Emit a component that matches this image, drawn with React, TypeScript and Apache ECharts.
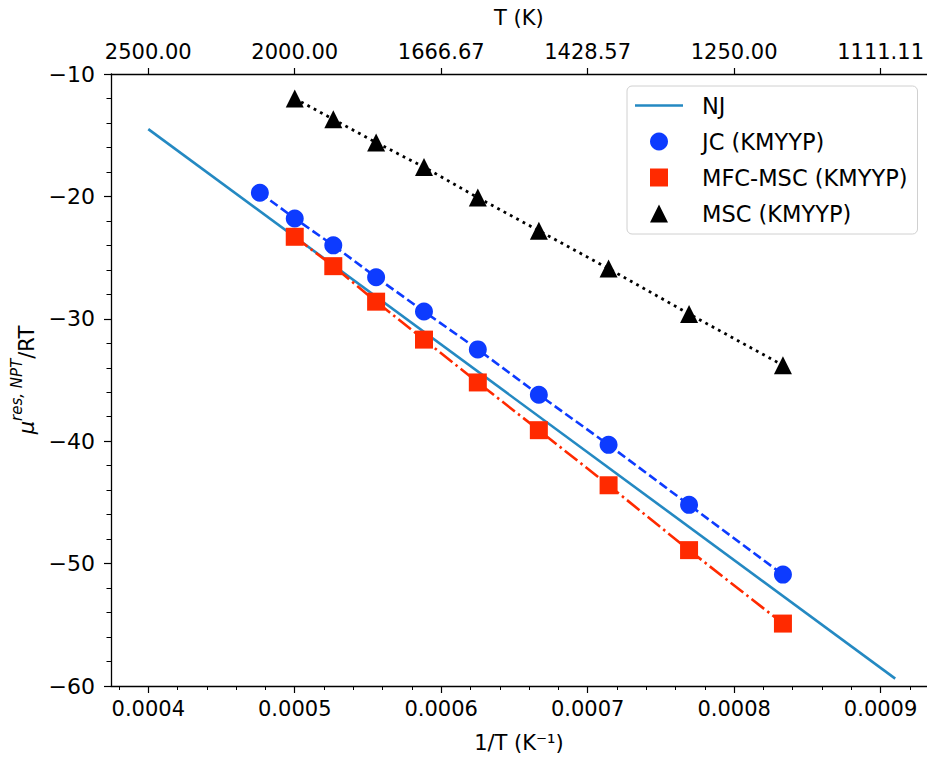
import React, { useEffect, useRef } from "react";
import * as echarts from "echarts";

// ---- data ----
const njInvT = [0.0004, 0.00091];
const njY = [-14.5, -59.4];

const jcT = [2100, 2000, 1900, 1800, 1700, 1600, 1500, 1400, 1300, 1200];
const jcY = [-19.7, -21.8, -24.0, -26.6, -29.4, -32.5, -36.2, -40.3, -45.2, -50.9];

const mfcT = [2000, 1900, 1800, 1700, 1600, 1500, 1400, 1300, 1200];
const mfcY = [-23.3, -25.7, -28.6, -31.7, -35.2, -39.1, -43.6, -48.9, -54.9];

const mscT = [2000, 1900, 1800, 1700, 1600, 1500, 1400, 1300, 1200];
const mscY = [-12.0, -13.7, -15.6, -17.6, -20.1, -22.8, -25.9, -29.6, -33.8];

const xMajorTicks = [0.0004, 0.0005, 0.0006, 0.0007, 0.0008, 0.0009];
const xMin = 0.00037454;
const xMax = 0.0009316;

const font = "'DejaVu Sans', sans-serif";

export default function App() {
  const ref = useRef<HTMLDivElement>(null);
  useEffect(() => {
    if (!ref.current) return;
    const chart = echarts.init(ref.current, undefined, { renderer: "svg" });

    const xMinor: number[] = [];
    for (let i = 19; i <= 46; i++) {
      if (i % 5 !== 0) xMinor.push(i * 0.00002);
    }

    const minusFmt = (v: number) => (v < 0 ? "\u2212" + Math.abs(v) : String(v));
    const axisLine = { show: true, lineStyle: { color: "#000", width: 1.3 } };

    const option: any = {
      animation: false,
      backgroundColor: "#fff",
      grid: { left: 111, right: 0, top: 74, bottom: 72, containLabel: false },
      legend: {
        orient: "vertical",
        left: 627,
        top: 86,
        width: 293,
        padding: [8, 10, 9, 8],
        itemGap: 13,
        itemWidth: 48,
        itemHeight: 18,
        backgroundColor: "rgba(255,255,255,0.8)",
        borderColor: "#d0d0d0",
        borderWidth: 1,
        borderRadius: 5,
        symbolKeepAspect: true,
        textStyle: { fontFamily: font, fontSize: 22.5, color: "#000", padding: [0, 0, 0, 14] },
        data: [
          { name: "NJ", icon: "path://M0,0 L48,0 L48,2.6 L0,2.6 Z" },
          { name: "JC (KMYYP)", icon: "circle" },
          { name: "MFC-MSC (KMYYP)", icon: "path://M0,0 L10,0 L10,10 L0,10 Z" },
          { name: "MSC (KMYYP)", icon: "path://M5,0 L10,10 L0,10 Z" },
        ],
      },
      xAxis: [
        {
          type: "value",
          position: "bottom",
          min: xMin,
          max: xMax,
          axisLine,
          splitLine: { show: false },
          axisTick: { show: true, length: 7, customValues: xMajorTicks, lineStyle: { color: "#000", width: 1.2 } },
          axisLabel: {
            customValues: xMajorTicks,
            formatter: (v: number) => Number(v).toFixed(4),
            fontFamily: font,
            fontSize: 21,
            color: "#000",
            margin: 12,
          },
          name: "1/T (K\u207B\u00B9)",
          nameLocation: "middle",
          nameGap: 46,
          nameTextStyle: { fontFamily: font, fontSize: 21, color: "#000" },
        },
        {
          type: "value",
          position: "top",
          min: xMin,
          max: xMax,
          axisLine,
          splitLine: { show: false },
          axisTick: { show: true, length: 6, customValues: xMajorTicks, lineStyle: { color: "#000", width: 1.2 } },
          axisLabel: {
            customValues: xMajorTicks,
            formatter: (v: number) => (1 / Number(v)).toFixed(2),
            fontFamily: font,
            fontSize: 21,
            color: "#000",
            margin: 12,
          },
          name: "T (K)",
          nameLocation: "middle",
          nameGap: 46,
          nameTextStyle: { fontFamily: font, fontSize: 21, color: "#000" },
        },
        {
          type: "value",
          position: "bottom",
          min: xMin,
          max: xMax,
          axisLine: { show: false },
          splitLine: { show: false },
          axisTick: { show: true, length: 4, customValues: xMinor, lineStyle: { color: "#000", width: 1 } },
          axisLabel: { show: false },
        },
      ],
      yAxis: {
        type: "value",
        min: -60,
        max: -10,
        interval: 10,
        axisLine,
        splitLine: { show: false },
        axisTick: { show: true, length: 7, lineStyle: { color: "#000", width: 1.2 } },
        minorTick: { show: true, splitNumber: 5, length: 4.5, lineStyle: { color: "#000", width: 1 } },
        axisLabel: { formatter: minusFmt, fontFamily: font, fontSize: 22, color: "#000", margin: 16 },
        name: "{m|\u03BC}{s|res, NPT}{r|/RT}",
        nameLocation: "middle",
        nameRotate: 90,
        nameGap: 72,
        nameTextStyle: {
          rich: {
            m: { fontFamily: font, fontSize: 21, fontStyle: "italic", color: "#000", lineHeight: 28, verticalAlign: "bottom" },
            s: { fontFamily: font, fontSize: 15, fontStyle: "italic", color: "#000", lineHeight: 28, verticalAlign: "top" },
            r: { fontFamily: font, fontSize: 21, color: "#000", lineHeight: 28, verticalAlign: "bottom" },
          },
        },
      },
      series: [
        {
          name: "NJ",
          type: "line",
          xAxisIndex: 0,
          data: njInvT.map((x, i) => [x, njY[i]]),
          symbol: "none",
          lineStyle: { color: "#2489c2", width: 2.6 },
          itemStyle: { color: "#2489c2" },
          z: 2,
        },
        {
          name: "JC (KMYYP)",
          type: "line",
          xAxisIndex: 0,
          data: jcT.map((t, i) => [1 / t, jcY[i]]),
          symbol: "circle",
          symbolSize: 18,
          lineStyle: { color: "#0d3bff", width: 2.6, type: [9, 4] },
          itemStyle: { color: "#0d3bff" },
          z: 3,
        },
        {
          name: "MFC-MSC (KMYYP)",
          type: "line",
          xAxisIndex: 0,
          data: mfcT.map((t, i) => [1 / t, mfcY[i]]),
          symbol: "rect",
          symbolSize: 18,
          lineStyle: { color: "#ff2a00", width: 2.6, type: [16, 4, 2.5, 4] },
          itemStyle: { color: "#ff2a00" },
          z: 4,
        },
        {
          name: "MSC (KMYYP)",
          type: "line",
          xAxisIndex: 0,
          data: mscT.map((t, i) => [1 / t, mscY[i]]),
          symbol: "triangle",
          symbolSize: 18,
          lineStyle: { color: "#000", width: 2.8, type: [2.8, 4.4] },
          itemStyle: { color: "#000" },
          z: 5,
        },
      ],
    };
    chart.setOption(option);
    return () => chart.dispose();
  }, []);
  return (
    <div
      ref={ref}
      style={{ position: "fixed", left: 0, top: 0, width: 927, height: 758, background: "#fff" }}
    />
  );
}
